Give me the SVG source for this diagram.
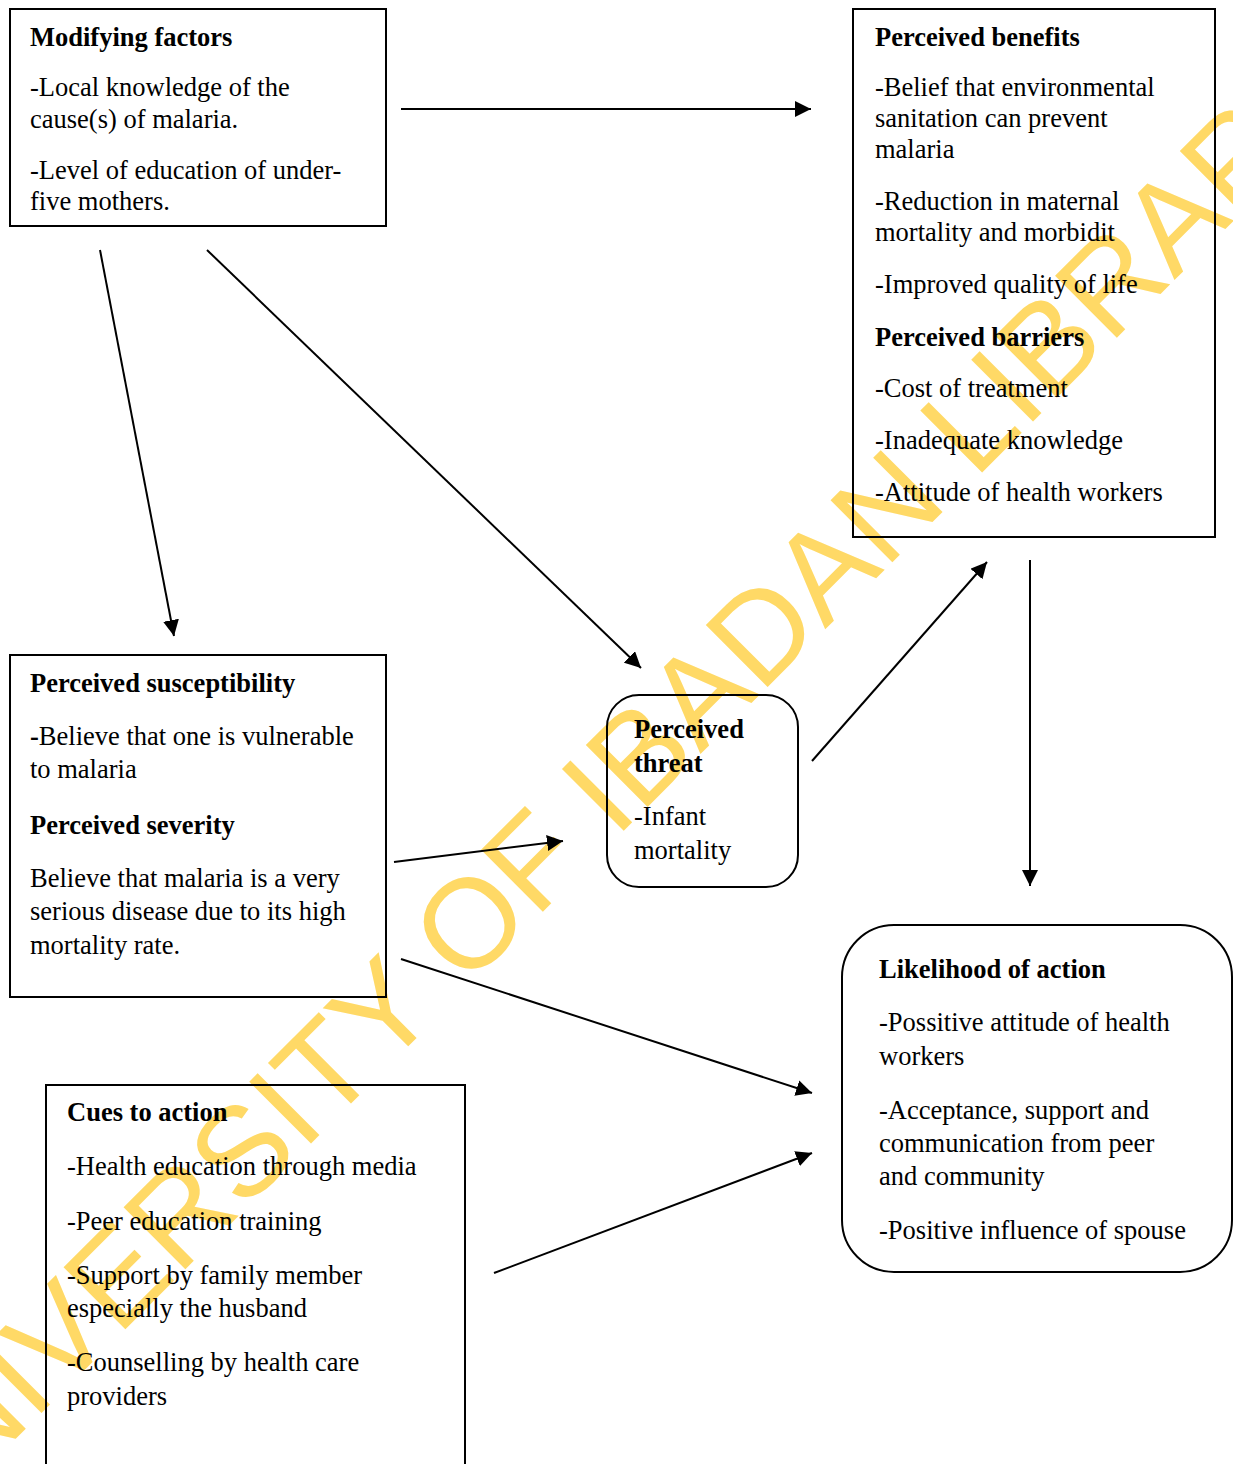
<svg xmlns="http://www.w3.org/2000/svg" width="1233" height="1464" viewBox="0 0 1233 1464">
<defs>
<style>
.box{fill:none;stroke:#000;stroke-width:2}
.t{font-family:"Liberation Serif","Times New Roman",serif;font-size:26.5px;fill:#000}
.b{font-weight:bold}
.c{fill:none;stroke:#000;stroke-width:2}
.wm{font-family:"Liberation Sans",Arial,sans-serif;font-size:127px;fill:#FFD966}
</style>
<marker id="ah" markerUnits="userSpaceOnUse" markerWidth="16" markerHeight="16" refX="16" refY="8" orient="auto" viewBox="0 0 16 16">
<path d="M0,0 L16,8 L0,16 z" fill="#000"/>
</marker>
</defs>
<rect width="1233" height="1464" fill="#fff"/>
<g id="watermark">
<text class="wm" transform="translate(-96.5,1551) rotate(-45)">UNIVERSITY OF IBADAN LIBRARY</text>
</g>
<g id="connectors">
<line class="c" x1="401" y1="109" x2="811" y2="109" marker-end="url(#ah)"/>
<line class="c" x1="100" y1="250" x2="174" y2="636" marker-end="url(#ah)"/>
<line class="c" x1="207" y1="250" x2="641" y2="668" marker-end="url(#ah)"/>
<line class="c" x1="394" y1="862" x2="563" y2="841" marker-end="url(#ah)"/>
<line class="c" x1="812" y1="761" x2="987" y2="562" marker-end="url(#ah)"/>
<line class="c" x1="1030" y1="560" x2="1030" y2="886" marker-end="url(#ah)"/>
<line class="c" x1="401" y1="959" x2="812" y2="1093" marker-end="url(#ah)"/>
<line class="c" x1="494" y1="1273" x2="812" y2="1153" marker-end="url(#ah)"/>
</g>
<g id="modifying-factors">
<rect class="box" x="10" y="9" width="376" height="217"/>
<text class="t b" x="30" y="46">Modifying factors</text>
<text class="t" x="30" y="96">-Local knowledge of the</text>
<text class="t" x="30" y="128">cause(s) of malaria.</text>
<text class="t" x="30" y="179">-Level of education of under-</text>
<text class="t" x="30" y="210">five mothers.</text>
</g>
<g id="perceived-benefits">
<rect class="box" x="853" y="9" width="362" height="528"/>
<text class="t b" x="875" y="46">Perceived benefits</text>
<text class="t" x="875" y="96">-Belief that environmental</text>
<text class="t" x="875" y="127">sanitation can prevent</text>
<text class="t" x="875" y="158">malaria</text>
<text class="t" x="875" y="210">-Reduction in maternal</text>
<text class="t" x="875" y="241">mortality and morbidit</text>
<text class="t" x="875" y="293">-Improved quality of life</text>
<text class="t b" x="875" y="346">Perceived barriers</text>
<text class="t" x="875" y="397">-Cost of treatment</text>
<text class="t" x="875" y="449">-Inadequate knowledge</text>
<text class="t" x="875" y="501">-Attitude of health workers</text>
</g>
<g id="perceived-susceptibility">
<rect class="box" x="10" y="655" width="376" height="342"/>
<text class="t b" x="30" y="692">Perceived susceptibility</text>
<text class="t" x="30" y="745"><tspan class="b">-</tspan>Believe that one is vulnerable</text>
<text class="t" x="30" y="778">to malaria</text>
<text class="t b" x="30" y="834">Perceived severity</text>
<text class="t" x="30" y="887">Believe that malaria is a very</text>
<text class="t" x="30" y="920">serious disease due to its high</text>
<text class="t" x="30" y="954">mortality rate.</text>
</g>
<g id="perceived-threat">
<rect class="box" x="607" y="695" width="191" height="192" rx="32" ry="32"/>
<text class="t b" x="634" y="738">Perceived</text>
<text class="t b" x="634" y="772">threat</text>
<text class="t" x="634" y="825">-Infant</text>
<text class="t" x="634" y="859">mortality</text>
</g>
<g id="likelihood-of-action">
<rect class="box" x="842" y="925" width="390" height="347" rx="52" ry="52"/>
<text class="t b" x="879" y="978">Likelihood of action</text>
<text class="t" x="879" y="1031">-Possitive attitude of health</text>
<text class="t" x="879" y="1065">workers</text>
<text class="t" x="879" y="1119">-Acceptance, support and</text>
<text class="t" x="879" y="1152">communication from peer</text>
<text class="t" x="879" y="1185">and community</text>
<text class="t" x="879" y="1239">-Positive influence of spouse</text>
</g>
<g id="cues-to-action">
<rect class="box" x="46" y="1085" width="419" height="400"/>
<text class="t b" x="67" y="1121">Cues to action</text>
<text class="t" x="67" y="1175">-Health education through media</text>
<text class="t" x="67" y="1230">-Peer education training</text>
<text class="t" x="67" y="1284">-Support by family member</text>
<text class="t" x="67" y="1317">especially the husband</text>
<text class="t" x="67" y="1371">-Counselling by health care</text>
<text class="t" x="67" y="1405">providers</text>
</g>
</svg>
